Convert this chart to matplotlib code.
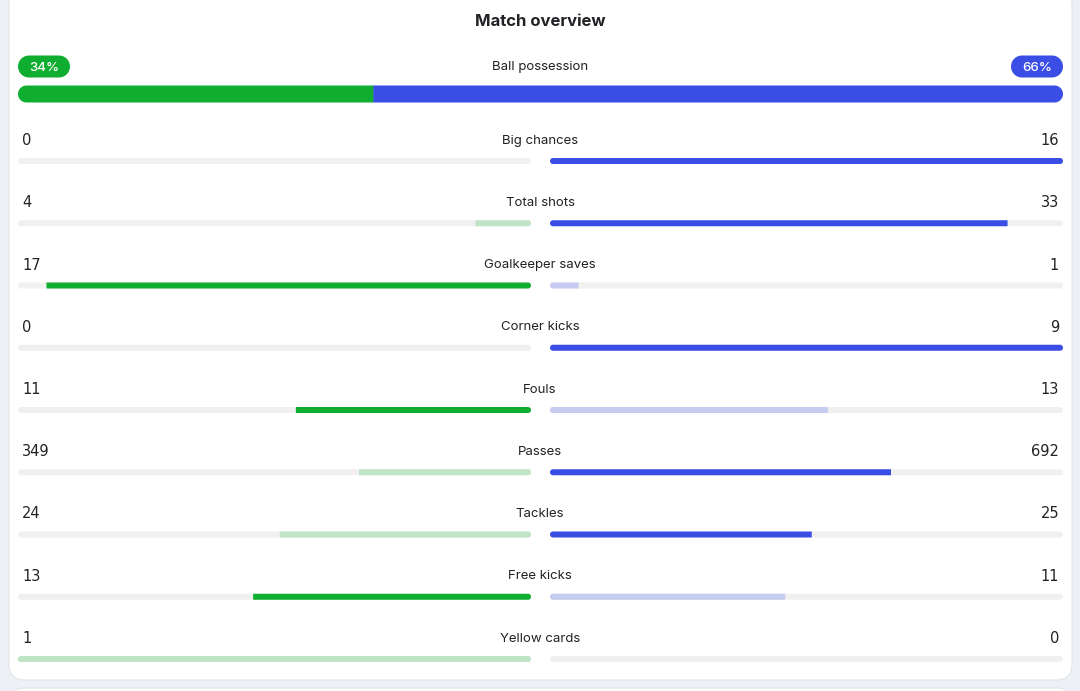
import numpy as np
import matplotlib.pyplot as plt
from matplotlib.patches import FancyBboxPatch, Polygon

plt.rcParams['font.family'] = ['Inter', 'DejaVu Sans']

possession_home = 34
possession_away = 66

stats = ["Big chances", "Total shots", "Goalkeeper saves", "Corner kicks",
         "Fouls", "Passes", "Tackles", "Free kicks", "Yellow cards"]
home_values = [0, 4, 17, 0, 11, 349, 24, 13, 1]
away_values = [16, 33, 1, 9, 13, 692, 25, 11, 0]
lower_is_better = [False, False, False, False, True, False, False, False, True]

GREEN = "#0fae31"
BLUE = "#3a4de4"
GREEN_LIGHT = "#bfe4c6"
BLUE_LIGHT = "#c6cbf0"
TRACK = "#f0f0f1"
TEXT = "#222226"
BG = "#edf0f4"

W, H = 1080, 691
fig = plt.figure(figsize=(W / 100, H / 100), dpi=100)
fig.patch.set_facecolor(BG)
ax = fig.add_axes([0, 0, 1, 1])
ax.set_xlim(0, W)
ax.set_ylim(H, 0)
ax.axis("off")


def rounded_bar(x0, x1, yc, h, color, round_left=True, round_right=True, z=2):
    # one polygon: half-circle caps where asked, square ends elsewhere
    if x1 - x0 <= 0:
        return
    r = min(h / 2, (x1 - x0) / 2)
    t = np.linspace(0, np.pi, 24)
    pts = []
    if round_right:
        cx = x1 - r
        pts += list(zip(cx + r * np.sin(t), yc - r * np.cos(t)))
    else:
        pts += [(x1, yc - h / 2), (x1, yc + h / 2)]
    if round_left:
        cx = x0 + r
        pts += list(zip(cx - r * np.sin(t), yc + r * np.cos(t)))
    else:
        pts += [(x0, yc + h / 2), (x0, yc - h / 2)]
    ax.add_patch(Polygon(pts, closed=True, fc=color, ec="none", lw=0, zorder=z))


# cards
ax.add_patch(FancyBboxPatch((9, -12), 1063, 692, boxstyle="round,pad=0,rounding_size=16",
                            fc="white", ec="#e2e5ea", lw=0.8, zorder=0))
ax.add_patch(FancyBboxPatch((9, 688), 1063, 40, boxstyle="round,pad=0,rounding_size=16",
                            fc="white", ec="#e2e5ea", lw=0.8, zorder=0))

ax.text(540, 21, "Match overview", ha="center", va="center", fontsize=12,
        fontweight="bold", color=TEXT)

# possession
left, right = 18, 1063
split = left + (right - left) * possession_home / (possession_home + possession_away)
rounded_bar(left, split + 0.5, 94, 17, GREEN, True, False)
rounded_bar(split, right, 94, 17, BLUE, False, True, z=3)
ax.text(540, 66.5, "Ball possession", ha="center", va="center", fontsize=9.5, color=TEXT)
rounded_bar(18, 70, 66.5, 22, GREEN)
rounded_bar(1011, 1063, 66.5, 22, BLUE)
ax.text(44, 67.5, f"{possession_home}%", ha="center", va="center", fontsize=9.5,
        fontweight="medium", color="white")
ax.text(1037, 67.5, f"{possession_away}%", ha="center", va="center", fontsize=9.5,
        fontweight="medium", color="white")

# stat rows
half = 513
l_inner, r_inner = 531, 550
for i, (name, hv, av, low) in enumerate(zip(stats, home_values, away_values, lower_is_better)):
    ty = 140.5 + i * 62.25
    by = 161 + i * 62.25
    ax.text(540, ty, name, ha="center", va="center", fontsize=9.5, color=TEXT)
    ax.text(22, ty, str(hv), ha="left", va="center", fontsize=10.5, color=TEXT,
            family="DejaVu Sans")
    ax.text(1059, ty, str(av), ha="right", va="center", fontsize=10.5, color=TEXT,
            family="DejaVu Sans")

    rounded_bar(l_inner - half, l_inner, by, 6, TRACK, z=1)
    rounded_bar(r_inner, r_inner + half, by, 6, TRACK, z=1)

    total = hv + av
    fl = hv / total if total else 0
    fr = av / total if total else 0
    home_wins = (hv < av) if low else (hv > av)
    away_wins = (av < hv) if low else (av > hv)
    cl = GREEN if home_wins else GREEN_LIGHT
    cr = BLUE if away_wins else BLUE_LIGHT
    if hv > 0:
        rounded_bar(l_inner - half * fl, l_inner, by, 6, cl, fl >= 1, True)
    if av > 0:
        rounded_bar(r_inner, r_inner + half * fr, by, 6, cr, True, fr >= 1)

fig.savefig("out.png", dpi=100, facecolor=BG)
